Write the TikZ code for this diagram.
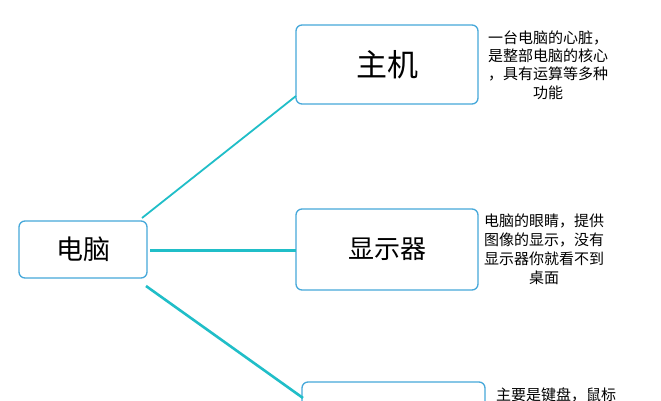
\documentclass[tikz,border=0pt]{standalone}
\usepackage{fontspec}
\newfontfamily\cjk{Noto Sans CJK SC}
\definecolor{linkc}{RGB}{32,190,200}
\definecolor{boxc}{RGB}{70,168,218}
\begin{document}
\begin{tikzpicture}[x=1pt,y=1pt,
  mbox/.style={draw=boxc,line width=1.3pt,rounded corners=6pt,fill=white,inner sep=0pt},
  link/.style={draw=linkc,line width=2.2pt},
  note/.style={align=center,font=\cjk\fontsize{15}{18.3}\selectfont,inner sep=0pt}]
\useasboundingbox (0,0) rectangle (661,-400);
\clip (0,0) rectangle (661,-400);
\fill[white] (0,0) rectangle (661,-400);
% boxes
\node[mbox,minimum width=128pt,minimum height=57pt,font=\cjk\fontsize{27}{30}\selectfont] (root) at (83,-249.5) {电脑};
\node[mbox,minimum width=182pt,minimum height=79pt,font=\cjk\fontsize{31}{34}\selectfont] (host) at (387,-64.5) {主机};
\node[mbox,minimum width=182pt,minimum height=81pt,font=\cjk\fontsize{26}{30}\selectfont] (disp) at (387,-249.5) {显示器};
\node[mbox,minimum width=183pt,minimum height=80pt] (inp) at (393.5,-422) {};
% connectors
\coordinate (r1) at (142,-218);
\coordinate (h1) at (296,-96);
\coordinate (r2) at (150,-250);
\coordinate (d1) at (296,-250);
\coordinate (r3) at (146,-286);
\coordinate (i1) at (303,-398);
\draw[link,line width=1.8pt] (r1) -- (h1);
\draw[link,line width=3pt] (r2) -- (d1);
\draw[link,line width=2.6pt] (r3) -- (i1);
% notes
\node[note] (hostnote) at (548,-65) {一台电脑的心脏，\\是整部电脑的核心\\，具有运算等多种\\功能};
\node[note,font=\cjk\fontsize{15}{19}\selectfont] (dispnote) at (544,-249.5) {电脑的眼睛，提供\\图像的显示，没有\\显示器你就看不到\\桌面};
\node[note,anchor=north west] (inpnote) at (496,-388) {主要是键盘，鼠标};
\end{tikzpicture}
\end{document}
